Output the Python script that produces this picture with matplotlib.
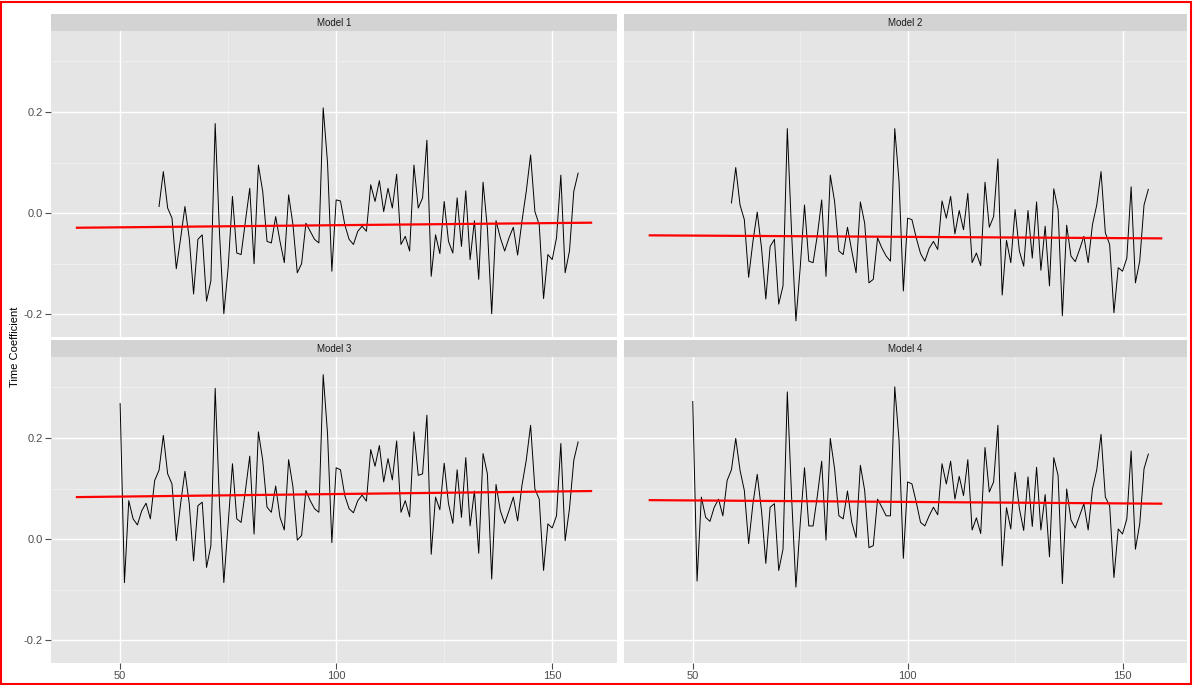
import numpy as np
import matplotlib
matplotlib.use("Agg")
import matplotlib.pyplot as plt
from matplotlib.patches import Rectangle

plt.rcParams['font.family'] = ['Liberation Sans', 'DejaVu Sans']

# time index (models 1 & 2 start later than 3 & 4)
x_short = np.arange(59, 157)
x_long = np.arange(50, 157)

model1 = [0.013, 0.082, 0.010, -0.010, -0.110, -0.050, 0.013, -0.050, -0.160, -0.052,
          -0.043, -0.174, -0.134, 0.177, -0.040, -0.199, -0.108, 0.033, -0.079, -0.082,
          -0.016, 0.049, -0.100, 0.095, 0.043, -0.056, -0.059, -0.007, -0.056, -0.098,
          0.036, -0.023, -0.118, -0.100, -0.020, -0.036, -0.052, -0.059, 0.208, 0.100,
          -0.115, 0.026, 0.024, -0.023, -0.052, -0.062, -0.036, -0.026, -0.036, 0.056,
          0.023, 0.064, 0.003, 0.049, 0.010, 0.077, -0.062, -0.046, -0.075, 0.095,
          0.010, 0.030, 0.144, -0.125, -0.043, -0.080, 0.023, -0.056, -0.079, 0.030,
          -0.066, 0.044, -0.092, -0.015, -0.131, 0.061, -0.030, -0.199, -0.015, -0.049,
          -0.075, -0.049, -0.028, -0.083, -0.016, 0.043, 0.115, 0.003, -0.023, -0.169,
          -0.082, -0.092, -0.049, 0.075, -0.118, -0.075, 0.043, 0.079]

model2 = [0.020, 0.090, 0.016, -0.013, -0.127, -0.056, 0.002, -0.069, -0.170, -0.066,
          -0.052, -0.180, -0.144, 0.167, -0.040, -0.213, -0.108, 0.016, -0.095, -0.098,
          -0.043, 0.026, -0.125, 0.075, 0.023, -0.075, -0.082, -0.028, -0.075, -0.118,
          0.022, -0.020, -0.138, -0.131, -0.049, -0.069, -0.085, -0.095, 0.167, 0.062,
          -0.154, -0.010, -0.013, -0.049, -0.080, -0.095, -0.070, -0.056, -0.072, 0.024,
          -0.010, 0.033, -0.041, 0.005, -0.033, 0.039, -0.098, -0.079, -0.104, 0.061,
          -0.028, -0.007, 0.107, -0.162, -0.054, -0.098, 0.007, -0.075, -0.105, 0.005,
          -0.089, 0.022, -0.113, -0.026, -0.144, 0.048, 0.007, -0.203, -0.024, -0.085,
          -0.096, -0.072, -0.046, -0.098, -0.023, 0.016, 0.082, -0.039, -0.062, -0.197,
          -0.108, -0.115, -0.089, 0.052, -0.138, -0.095, 0.016, 0.047]

model3 = [0.268, -0.086, 0.076, 0.040, 0.028, 0.056, 0.071, 0.040, 0.116, 0.136,
          0.205, 0.129, 0.109, -0.003, 0.070, 0.134, 0.070, -0.043, 0.066, 0.073,
          -0.056, -0.013, 0.298, 0.070, -0.086, 0.030, 0.149, 0.040, 0.033, 0.096,
          0.164, 0.010, 0.212, 0.156, 0.063, 0.053, 0.105, 0.043, 0.018, 0.157,
          0.103, -0.002, 0.007, 0.096, 0.076, 0.060, 0.053, 0.325, 0.209, -0.007,
          0.141, 0.137, 0.086, 0.060, 0.052, 0.076, 0.087, 0.075, 0.177, 0.144,
          0.185, 0.113, 0.159, 0.117, 0.194, 0.053, 0.076, 0.044, 0.212, 0.126,
          0.129, 0.245, -0.030, 0.083, 0.058, 0.150, 0.070, 0.031, 0.137, 0.043,
          0.161, 0.026, 0.095, -0.028, 0.169, 0.129, -0.079, 0.108, 0.056, 0.031,
          0.056, 0.083, 0.036, 0.106, 0.156, 0.225, 0.099, 0.079, -0.062, 0.030,
          0.022, 0.046, 0.189, -0.003, 0.060, 0.156, 0.192]

model4 = [0.272, -0.083, 0.083, 0.043, 0.035, 0.063, 0.079, 0.046, 0.116, 0.137,
          0.199, 0.136, 0.096, -0.009, 0.070, 0.128, 0.056, -0.048, 0.063, 0.070,
          -0.062, -0.020, 0.291, 0.083, -0.095, 0.030, 0.141, 0.026, 0.026, 0.086,
          0.154, -0.002, 0.199, 0.139, 0.046, 0.040, 0.095, 0.033, 0.003, 0.146,
          0.096, -0.017, -0.013, 0.079, 0.063, 0.046, 0.046, 0.301, 0.195, -0.038,
          0.113, 0.109, 0.073, 0.033, 0.026, 0.046, 0.063, 0.048, 0.149, 0.109,
          0.154, 0.079, 0.124, 0.086, 0.157, 0.018, 0.042, 0.011, 0.181, 0.093,
          0.113, 0.225, -0.053, 0.062, 0.020, 0.132, 0.060, 0.017, 0.123, 0.025,
          0.142, 0.018, 0.088, -0.035, 0.161, 0.126, -0.088, 0.099, 0.038, 0.022,
          0.046, 0.070, 0.018, 0.099, 0.137, 0.207, 0.083, 0.066, -0.076, 0.020,
          0.010, 0.040, 0.174, -0.020, 0.030, 0.139, 0.168]

# fitted trend lines (start / end)
trend_x = [40, 159]
trend1 = [-0.029, -0.019]
trend2 = [-0.044, -0.050]
trend3 = [0.083, 0.095]
trend4 = [0.077, 0.070]

panel_names = ["Model 1", "Model 2", "Model 3", "Model 4"]
series = [(x_short, model1, trend1), (x_short, model2, trend2),
          (x_long, model3, trend3), (x_long, model4, trend4)]

W, H = 1193, 685
fig = plt.figure(figsize=(W / 100, H / 100), dpi=100)

# panel boxes in pixels
col_l = [51, 624]
col_r = [617, 1187]
row_t = [31, 357]
row_b = [337, 663]
strip_h = 17

for i, name in enumerate(panel_names):
    r, c = divmod(i, 2)
    l, rr, t, b = col_l[c], col_r[c], row_t[r], row_b[r]
    ax = fig.add_axes([l / W, 1 - b / H, (rr - l) / W, (b - t) / H])
    ax.set_facecolor('#E5E5E5')
    xs, ys, tr = series[i]
    ax.plot(xs, ys, color='black', lw=0.7)
    ax.plot(trend_x, tr, color='red', lw=1.6)
    ax.set_xlim(34, 165)
    ax.set_ylim(-0.245, 0.36)
    ax.set_xticks([50, 100, 150])
    ax.set_xticks([75, 125], minor=True)
    ax.set_yticks([-0.2, 0.0, 0.2])
    ax.set_yticks([-0.1, 0.1, 0.3], minor=True)
    ax.set_yticklabels(["-0.2", "0.0", "0.2"])
    ax.grid(which='major', color='white', lw=1.0)
    ax.grid(which='minor', color='#F2F2F2', lw=0.5)
    ax.set_axisbelow(True)
    for s in ax.spines.values():
        s.set_visible(False)
    ax.tick_params(which='minor', length=0)
    ax.tick_params(which='major', length=4, color='#4D4D4D', labelcolor='#4D4D4D',
                   labelsize=8, pad=2)
    if r == 0:
        ax.tick_params(axis='x', bottom=False, labelbottom=False)
    if c == 1:
        ax.tick_params(axis='y', left=False, labelleft=False)

    # strip on top
    sax = fig.add_axes([l / W, 1 - t / H, (rr - l) / W, strip_h / H])
    sax.set_facecolor('#D3D3D3')
    sax.set_xticks([])
    sax.set_yticks([])
    for s in sax.spines.values():
        s.set_visible(False)
    sax.text(0.5, 0.5, name, ha='center', va='center', fontsize=7, color='#1A1A1A',
             transform=sax.transAxes)

fig.text(15 / W, 1 - 347 / H, "Time Coefficient", rotation=90, ha='center', va='center',
         fontsize=8)

fig.add_artist(Rectangle((1 / W, 1 / H), (W - 3) / W, (H - 3) / H, transform=fig.transFigure,
                         fill=False, edgecolor='red', lw=1.5))

fig.savefig('out.png', dpi=100)
